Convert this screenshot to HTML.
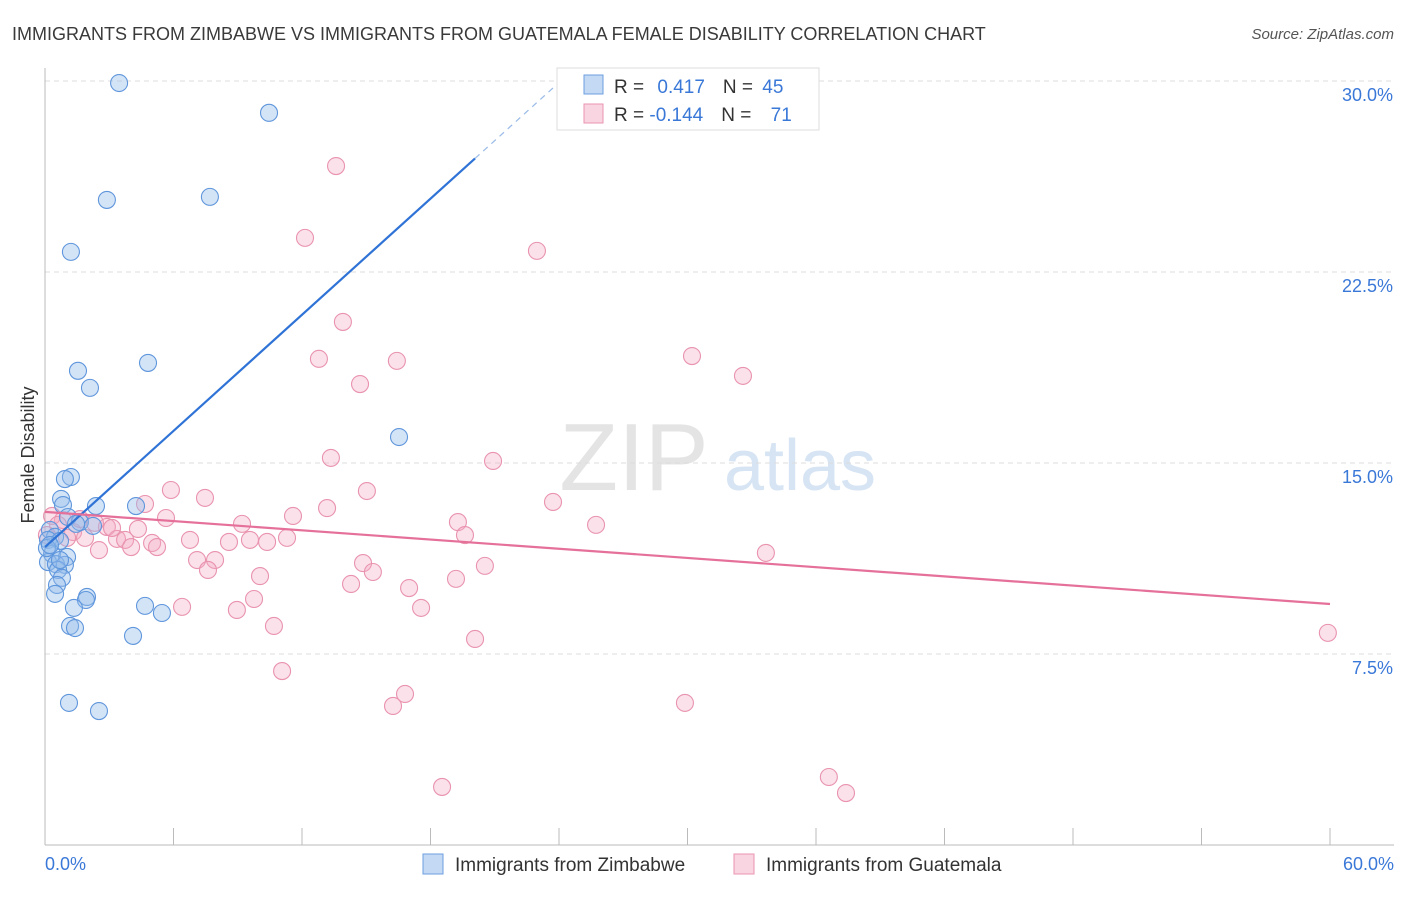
<!DOCTYPE html>
<html><head><meta charset="utf-8"><style>
body{margin:0;background:#fff;font-family:"Liberation Sans",sans-serif;}
svg text{font-family:"Liberation Sans",sans-serif;}
</style></head><body>
<svg id="chart" width="1406" height="892" xmlns="http://www.w3.org/2000/svg">
<text x="12" y="40" font-size="18" fill="#3a3a3a">IMMIGRANTS FROM ZIMBABWE VS IMMIGRANTS FROM GUATEMALA FEMALE DISABILITY CORRELATION CHART</text>
<text x="1394" y="39" font-size="15" font-style="italic" fill="#555" text-anchor="end">Source: ZipAtlas.com</text>
<g>
<text x="634" y="490" font-size="96" font-family="Liberation Serif" fill="#e4e4e4" text-anchor="middle">ZIP</text>
<text x="800" y="490" font-size="72" fill="#d6e4f4" text-anchor="middle">atlas</text>
</g>
<g id="grid"></g>
<g id="axes"></g>
<g id="pts"></g>
<g id="trends"></g>
<text transform="translate(34,455) rotate(-90)" font-size="18" fill="#333" text-anchor="middle">Female Disability</text>
<g>
<rect x="557" y="68" width="262" height="62" fill="#fff" stroke="#ddd"/>
<rect x="584" y="75" width="19" height="19" fill="rgba(147,187,235,0.55)" stroke="#6d9fe0"/>
<rect x="584" y="104" width="19" height="19" fill="rgba(244,170,195,0.5)" stroke="#eb94b0"/>
<text x="614" y="93" font-size="19" fill="#333">R = <tspan fill="#3a78d8" dx="8">0.417</tspan><tspan dx="18" fill="#333">N = </tspan><tspan fill="#3a78d8" dx="4">45</tspan></text>
<text x="614" y="121" font-size="19" fill="#333">R = <tspan fill="#3a78d8">-0.144</tspan><tspan dx="18" fill="#333">N = </tspan><tspan fill="#3a78d8" dx="14">71</tspan></text>
</g>
<g>
<rect x="423" y="854" width="20" height="20" fill="rgba(147,187,235,0.55)" stroke="#6d9fe0"/>
<text x="455" y="871" font-size="19" fill="#333">Immigrants from Zimbabwe</text>
<rect x="734" y="854" width="20" height="20" fill="rgba(244,170,195,0.5)" stroke="#eb94b0"/>
<text x="766" y="871" font-size="19" fill="#333">Immigrants from Guatemala</text>
</g>
</svg>
<script>
const yTicks=[7.5,15,22.5,30];
const yTickLabels=["7.5%","15.0%","22.5%","30.0%"];
const xTickLabels=["0.0%","60.0%"];
const blueX=[3.46,10.46,2.89,7.70,1.21,1.54,4.81,2.10,16.53,1.21,0.93,0.75,0.84,2.38,4.25,1.07,1.63,2.24,1.45,0.23,0.47,0.14,0.70,0.33,1.03,0.14,0.51,0.93,0.61,0.79,0.56,0.47,1.96,1.91,4.67,1.35,5.46,1.17,1.40,4.11,1.12,2.52,0.09,0.23,0.70];
const blueY=[29.92,28.75,25.33,25.45,23.29,18.62,18.93,17.95,16.02,14.45,14.37,13.59,13.35,13.31,13.31,12.88,12.68,12.53,12.61,12.37,12.10,11.98,11.94,11.43,11.31,11.11,11.03,11.00,10.80,10.49,10.21,9.86,9.74,9.62,9.39,9.31,9.11,8.60,8.52,8.21,5.58,5.26,11.66,11.78,11.19];
const pinkX=[13.59,22.97,12.14,13.91,12.79,16.43,14.71,30.21,32.59,13.35,20.92,5.88,7.47,15.03,4.67,13.17,23.72,11.58,5.65,9.20,19.28,25.73,2.89,19.61,0.84,0.33,1.31,1.87,3.36,4.34,3.74,5.00,5.23,6.77,8.59,9.57,10.37,11.30,2.52,4.02,7.10,7.94,14.85,20.54,33.66,7.61,10.04,15.31,14.29,17.00,19.19,9.76,6.40,8.96,17.56,10.69,20.08,59.90,11.07,16.81,16.25,29.88,36.60,37.40,18.54,0.61,1.03,0.09,1.63,2.33,3.13];
const pinkY=[26.66,23.33,23.84,20.54,19.09,19.01,18.10,19.20,18.42,15.20,15.08,13.94,13.63,13.90,13.39,13.23,13.47,12.92,12.84,12.61,12.68,12.57,12.49,12.17,12.76,12.92,12.29,12.06,12.02,12.41,11.98,11.86,11.70,11.98,11.90,11.98,11.90,12.06,11.58,11.70,11.19,11.19,11.07,10.96,11.47,10.80,10.56,10.72,10.25,10.09,10.45,9.66,9.35,9.23,9.31,8.60,8.09,8.33,6.83,5.93,5.46,5.58,2.67,2.04,2.28,12.57,12.06,12.17,12.80,12.65,12.45];
const blueTrend=[11.70,0.76];   // intercept, slope
const pinkTrend=[13.08,-0.0603];
const NS="http://www.w3.org/2000/svg";
const X=v=>45+v/60*1285, Y=v=>845-v/7.5*191;
function mk(t,a,p){const e=document.createElementNS(NS,t);for(const k in a)e.setAttribute(k,a[k]);p.appendChild(e);return e;}
const grid=document.getElementById('grid'),axes=document.getElementById('axes');
yTicks.forEach((t,i)=>{
 const l=mk('line',{x1:45,x2:1394,y1:Y(t),y2:Y(t),stroke:'#ddd','stroke-dasharray':'5,4'},grid);
 
 
 const tx=mk('text',{x:1393,y:Y(t)+20,'font-size':18,fill:'#3a78d8','text-anchor':'end'},axes);
 tx.textContent=yTickLabels[i];
 
 
});
mk('line',{x1:45,x2:45,y1:68,y2:845,stroke:'#bbb'},axes);
mk('line',{x1:45,x2:1394,y1:845,y2:845,stroke:'#bbb'},axes);
for(let i=0;i<=10;i++){mk('line',{x1:X(i*6),x2:X(i*6),y1:828,y2:845,stroke:'#bbb'},axes);}
[[0,'start',45],[60,'end',1394]].forEach((d,i)=>{
 const tx=mk('text',{x:d[2],y:870,'font-size':18,fill:'#3a78d8','text-anchor':d[1]},axes);
 tx.textContent=xTickLabels[i];
 
 
});
const pts=document.getElementById('pts');
function draw(xs,ys,fill,stroke,name){xs.forEach((x,i)=>{
 const c=mk('circle',{cx:X(x),cy:Y(ys[i]),r:8.5,fill:fill,stroke:stroke,'stroke-width':1.1},pts);
 
 
});}
draw(pinkX,pinkY,'rgba(244,170,195,0.35)','#e993ae','point-guatemala');
draw(blueX,blueY,'rgba(147,187,235,0.4)','#5f96dc','point-zimbabwe');
const tr=document.getElementById('trends');
const bl=mk('line',{x1:X(0),y1:Y(blueTrend[0]),x2:X(20.08),y2:Y(blueTrend[0]+blueTrend[1]*20.08),stroke:'#2f73d6','stroke-width':2.2},tr);


const bd=mk('line',{x1:X(20.08),y1:Y(blueTrend[0]+blueTrend[1]*20.08),x2:X(23.86),y2:Y(blueTrend[0]+blueTrend[1]*23.86),stroke:'#9bbce8','stroke-width':1.2,'stroke-dasharray':'6,5'},tr);


const pl=mk('line',{x1:X(0),y1:Y(pinkTrend[0]),x2:X(60),y2:Y(pinkTrend[0]+pinkTrend[1]*60),stroke:'#e5709a','stroke-width':2.2},tr);


</script>
</body></html>
